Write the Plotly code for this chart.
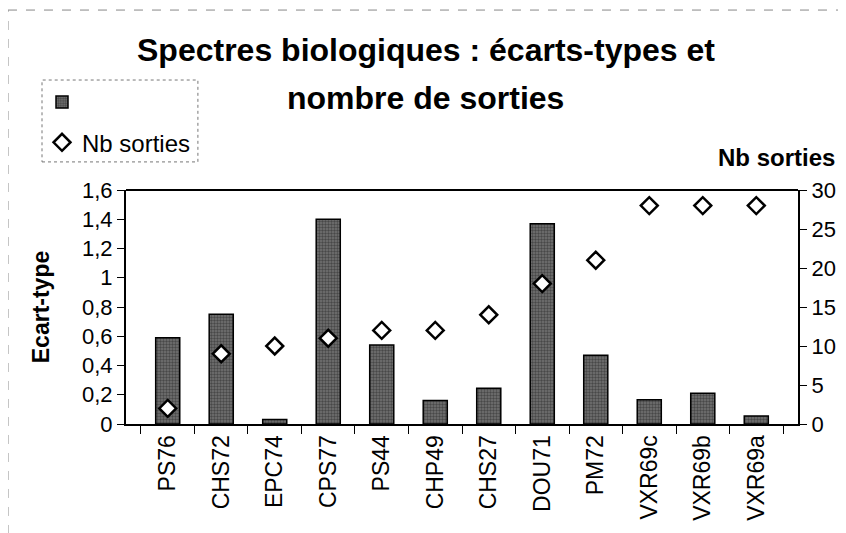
import plotly.graph_objects as go

# sites (x categories)
sites = ['PS76', 'CHS72', 'EPC74', 'CPS77', 'PS44', 'CHP49', 'CHS27',
         'DOU71', 'PM72', 'VXR69c', 'VXR69b', 'VXR69a']

# standard deviation of biological spectra (left axis)
ecart_type = [0.59, 0.75, 0.03, 1.40, 0.54, 0.16, 0.245, 1.37, 0.47, 0.165, 0.21, 0.055]

# number of outings (right axis)
nb_sorties = [2, 9, 10, 11, 12, 12, 14, 18, 21, 28, 28, 28]

left_ticks = [0, 0.2, 0.4, 0.6, 0.8, 1, 1.2, 1.4, 1.6]
right_ticks = [0, 5, 10, 15, 20, 25, 30]

FONT = 'Liberation Sans, Arial, sans-serif'

fig = go.Figure()

fig.add_trace(go.Bar(
    x=sites, y=ecart_type, name=' ', legendgroup='a',
    width=0.45,
    marker=dict(color='#737373',
                line=dict(color='black', width=1.5),
                pattern=dict(shape='.', fgcolor='#1e1e1e', size=3, solidity=0.5)),
))

fig.add_trace(go.Scatter(
    x=sites, y=nb_sorties, name='Nb sorties', mode='markers', yaxis='y2',
    legendgroup='b',
    marker=dict(symbol='diamond', size=13, color='white',
                line=dict(color='black', width=2.5)),
))

# page body has an 8px margin, so the figure is a bit smaller than the window
fig.update_layout(
    width=838, height=525,
    margin=dict(l=118, r=48, t=182, b=109, autoexpand=False),
    paper_bgcolor='white', plot_bgcolor='white',
    font=dict(family=FONT, size=22, color='black'),
    separators=', ',
    showlegend=True,
    legend=dict(x=-0.125, y=1.47, xanchor='left', yanchor='top',
                bgcolor='rgba(0,0,0,0)', font=dict(size=24),
                itemwidth=30, tracegroupgap=6),
    xaxis=dict(showline=True, linecolor='black', linewidth=2,
               ticks='outside', tickson='boundaries', ticklen=8, tickcolor='black',
               tickangle=-90, tickfont=dict(size=23), showgrid=False,
               automargin=False),
    yaxis=dict(range=[0, 1.6], tickvals=left_ticks, showline=True,
               linecolor='black', linewidth=2, ticks='outside', ticklen=7,
               tickcolor='black', showgrid=False, zeroline=False,
               tickfont=dict(size=22), automargin=False,
               title=dict(text='<b>Ecart-type</b>', font=dict(size=23), standoff=26)),
    yaxis2=dict(range=[0, 30], tickvals=right_ticks, overlaying='y', side='right',
                showline=True, linecolor='black', linewidth=2, ticks='outside',
                ticklen=7, tickcolor='black', showgrid=False, zeroline=False,
                tickfont=dict(size=22), automargin=False),
)

# two-line title
fig.add_annotation(text='<b>Spectres biologiques : écarts-types et</b>',
                   xref='paper', yref='paper', x=0.446, y=1.598,
                   xanchor='center', yanchor='middle', showarrow=False,
                   font=dict(size=32))
fig.add_annotation(text='<b>nombre de sorties</b>',
                   xref='paper', yref='paper', x=0.446, y=1.393,
                   xanchor='center', yanchor='middle', showarrow=False,
                   font=dict(size=32))

# top border of plot area
fig.add_shape(type='line', xref='paper', yref='paper', x0=0, x1=1, y0=1, y1=1,
              line=dict(color='black', width=2))

# right axis title
fig.add_annotation(text='<b>Nb sorties</b>', xref='paper', yref='paper',
                   x=1.058, y=1.14, xanchor='right', yanchor='middle',
                   showarrow=False, font=dict(size=24))

# dotted legend box and outer frame, like the scanned original
fig.add_shape(type='rect', xref='paper', yref='paper',
              x0=-0.125, x1=0.107, y0=1.12, y1=1.47,
              line=dict(color='#777', width=1, dash='dot'))
fig.add_shape(type='line', xref='paper', yref='paper', x0=-0.1756, x1=1.07,
              y0=1.769, y1=1.769, line=dict(color='#888', width=1, dash='dash'))
fig.add_shape(type='line', xref='paper', yref='paper', x0=-0.1756, x1=-0.1756,
              y0=-0.47, y1=1.769, line=dict(color='#888', width=1, dash='dash'))

fig.write_html('out.html')
